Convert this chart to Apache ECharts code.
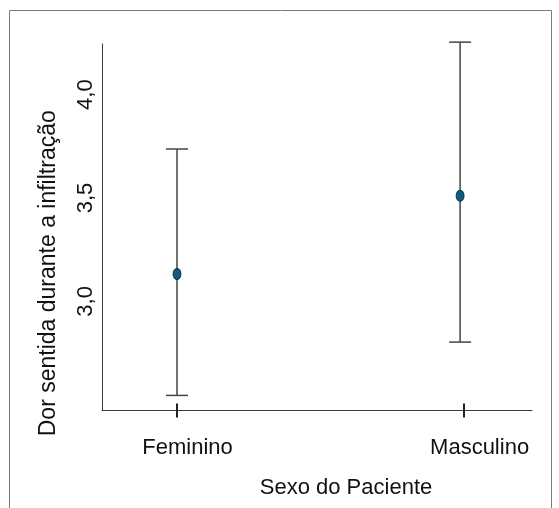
<!DOCTYPE html>
<html>
<head>
<meta charset="utf-8">
<script src="https://cdn.jsdelivr.net/npm/echarts@6/dist/echarts.min.js"></script>
<style>
  html, body { margin: 0; padding: 0; background: #fff; }
  #chart { width: 559px; height: 508px; }
</style>
</head>
<body>
<div id="chart"></div>
<script>
// Data
const categories = ['Feminino', 'Masculino'];
const means = [3.132, 3.511];
const lowerCI = [2.545, 2.803];
const upperCI = [3.737, 4.254];
const yTickValues = [3.0, 3.5, 4.0];
const xTickPos = [0, 1.012];

const font = "'Liberation Sans', Arial, sans-serif";
const axisColor = '#3a3a3a';

const chart = echarts.init(document.getElementById('chart'), null, { renderer: 'canvas' });

const barData = categories.map((c, i) => [i, lowerCI[i], upperCI[i]]);
const meanData = categories.map((c, i) => [i, means[i]]);

function renderErrorBar(params, api) {
    const x = api.value(0);
    const lo = api.coord([x, api.value(1)]);
    const hi = api.coord([x, api.value(2)]);
    const half = 11;
    const style = { stroke: '#444', lineWidth: 1.5 };
    return {
        type: 'group',
        children: [
            { type: 'line', shape: { x1: lo[0], y1: lo[1], x2: hi[0], y2: hi[1] }, style },
            { type: 'line', shape: { x1: hi[0] - half, y1: hi[1], x2: hi[0] + half, y2: hi[1] }, style },
            { type: 'line', shape: { x1: lo[0] - half, y1: lo[1], x2: lo[0] + half, y2: lo[1] }, style }
        ]
    };
}

const option = {
    backgroundColor: '#fff',
    animation: false,
    textStyle: { fontFamily: font },
    graphic: [{
        type: 'rect',
        shape: { x: 9.5, y: 10.5, width: 542, height: 520 },
        style: { fill: 'none', stroke: '#7a7a7a', lineWidth: 1 },
        silent: true
    }],
    grid: { left: 102, top: 44, width: 430, height: 366.5 },
    xAxis: [{
        type: 'value',
        min: -0.265,
        max: 1.254,
        position: 'bottom',
        splitLine: { show: false },
        axisLine: { show: true, onZero: false, lineStyle: { color: axisColor, width: 1 } },
        axisTick: { show: true, customValues: xTickPos, length: 7, lineStyle: { color: '#222', width: 2 } },
        axisLabel: {
            customValues: [0, 1],
            margin: 26,
            fontSize: 22,
            color: '#111',
            fontFamily: font,
            formatter: v => (v < 0.5 ? '{f|' + categories[0] + '}' : '{m|' + categories[1] + '}'),
            rich: {
                f: { fontSize: 22, fontFamily: font, color: '#111', padding: [0, 0, 0, 21] },
                m: { fontSize: 22, fontFamily: font, color: '#111', padding: [0, 0, 0, 39] }
            }
        },
        name: 'Sexo do Paciente',
        nameLocation: 'middle',
        nameGap: 66,
        nameTextStyle: { fontSize: 22, color: '#111', fontFamily: font, padding: [0, 0, 0, 58] }
    }, {
        type: 'value',
        min: -0.265,
        max: 1.254,
        position: 'bottom',
        splitLine: { show: false },
        axisLine: { show: false, onZero: false },
        axisLabel: { show: false },
        axisTick: { show: true, inside: true, customValues: xTickPos, length: 7, lineStyle: { color: '#222', width: 2 } }
    }],
    yAxis: {
        type: 'value',
        min: 2.472,
        max: 4.245,
        position: 'left',
        splitLine: { show: false },
        axisLine: { show: true, onZero: false, lineStyle: { color: axisColor, width: 1 } },
        axisTick: { show: false },
        axisLabel: {
            customValues: yTickValues,
            rotate: 90,
            margin: 5,
            fontSize: 22,
            color: '#111',
            fontFamily: font,
            formatter: v => v.toFixed(1).replace('.', ',')
        },
        name: 'Dor sentida durante a infiltração',
        nameLocation: 'middle',
        nameGap: 42,
        nameTextStyle: { fontSize: 23, color: '#111', fontFamily: font, padding: [0, 92, 0, 0] }
    },
    series: [{
        type: 'custom',
        xAxisIndex: 0,
        clip: false,
        renderItem: renderErrorBar,
        encode: { x: 0, y: [1, 2] },
        data: barData,
        z: 2
    }, {
        type: 'scatter',
        xAxisIndex: 0,
        symbol: 'circle',
        symbolSize: [8, 11],
        itemStyle: { color: '#115b80', borderColor: '#0b3048', borderWidth: 1, opacity: 1 },
        data: meanData,
        z: 3
    }]
};

chart.setOption(option);
</script>
</body>
</html>
